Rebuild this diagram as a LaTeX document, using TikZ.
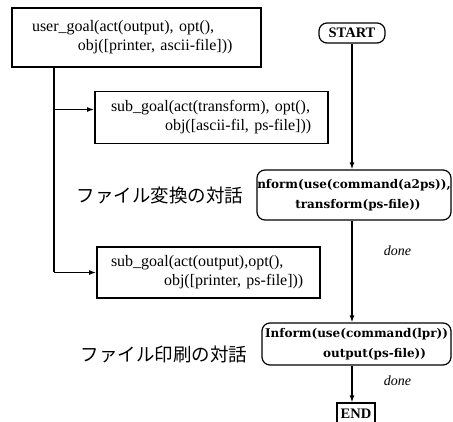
\documentclass[tikz,border=0pt]{standalone}
\usepackage{fontspec}
\setmainfont{Liberation Serif}
\newfontfamily\jpfont{Noto Sans CJK JP}
\newfontfamily\cmdfont{DejaVu Serif}
\usetikzlibrary{arrows.meta}

\begin{document}
\begin{tikzpicture}[x=1pt,y=-1pt,>={Latex[length=7pt,width=5pt]},
    font=\fontsize{16}{19}\selectfont]
              \useasboundingbox (0,0) rectangle (453,422);

              \begin{scope}[every node/.style={rectangle,draw,line width=1.8pt,align=left,inner ysep=0pt}]
                  \node[text width=209,inner xsep=20,minimum height=59] (ugoal) at (136.5,37.5)
                      {user\_goal(act(output), opt(),\\ \hspace*{46pt}obj([printer, ascii-file]))};
                  \node[text width=201,inner xsep=16,minimum height=52] (sub1) at (211.5,117.5)
                      {sub\_goal(act(transform), opt(),\\ \hspace*{54pt}obj([ascii-fil, ps-file]))};
                  \node[text width=195,inner xsep=14,minimum height=51] (sub2) at (208.5,272.5)
                      {sub\_goal(act(output),opt(),\\ \hspace*{53pt}obj([printer, ps-file]))};
              \end{scope}

              \begin{scope}[every node/.style={rectangle,rounded corners=8pt,draw,line width=1.2pt,
                      align=left,inner sep=0pt,font=\fontsize{12}{20}\cmdfont\bfseries}]
                  \node[minimum width=66,minimum height=20,font=\fontsize{14.5}{16}\selectfont\bfseries] (start) at (352,33) {START};
                  \node[minimum width=194,minimum height=50] (inform1) at (354,195)
                      {nform(use(command(a2ps)),\\ \hspace*{38pt}transform(ps-file))};
                  \node[minimum width=189,minimum height=42] (inform2) at (356.5,344)
                      {Inform(use(command(lpr))\\ \hspace*{58pt}output(ps-file))};
                  \node[rounded corners=0pt,minimum width=38,minimum height=22,
                      font=\fontsize{14.5}{16}\selectfont\bfseries] (end) at (356,414) {END};
              \end{scope}

              \node[font=\fontsize{18.5}{20}\jpfont] (talk1) at (160,195) {ファイル変換の対話};
              \node[font=\fontsize{18.5}{20}\jpfont] (talk2) at (164,354) {ファイル印刷の対話};

              \coordinate (trunk) at (54,0);
              \coordinate (sub1in) at ([yshift=8pt]sub1.west);
              \begin{scope}[line width=1.3pt,every node/.style={font=\fontsize{14}{16}\selectfont\itshape}]
                  \draw (ugoal.south -| trunk) -- (trunk |- sub2.west);
                  \draw[->] (trunk |- sub2.west) -- (sub2.west);
                  \draw[->] (trunk |- sub1in) -- (sub1in);
                  \path [->] (start.south) edge (start |- inform1.north);
                  \path [->] (start |- inform1.south) edge node[right=28pt,pos=0.3] {done} (start |- inform2.north);
                  \path [->] (start |- inform2.south) edge node[right=28pt,pos=0.4] {done} (start |- end.north);
              \end{scope}
              \end{tikzpicture}
\end{document}
